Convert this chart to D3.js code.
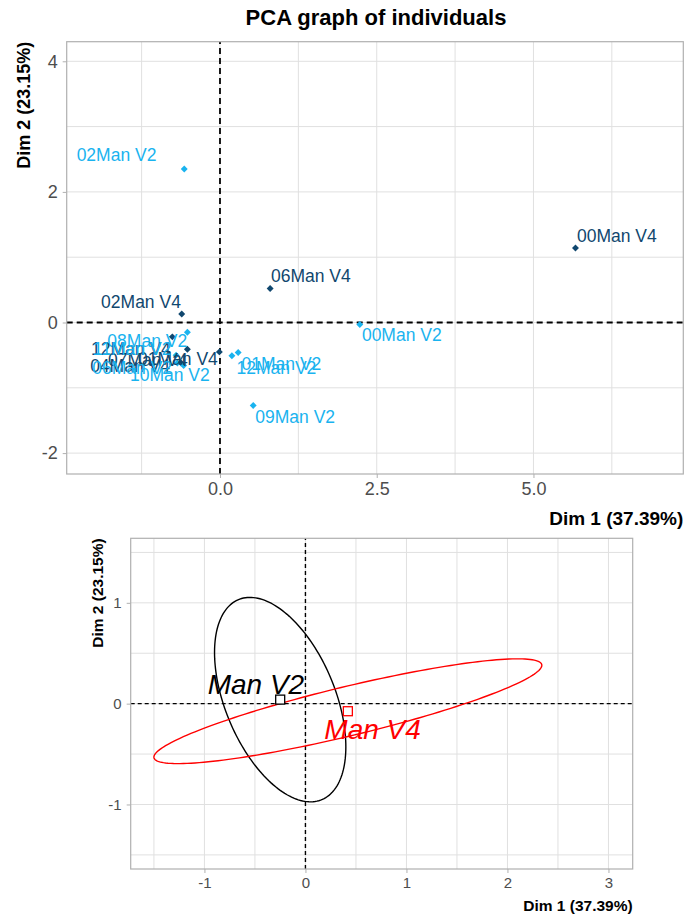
<!DOCTYPE html>
<html><head><meta charset="utf-8">
<script src="https://cdn.jsdelivr.net/npm/d3@7/dist/d3.min.js"></script>
<style>
body{margin:0;background:#fff}
svg{display:block;font-family:"Liberation Sans",Arial,sans-serif}
</style>
</head><body>
<svg id="c" width="692" height="915"></svg>
<script>
// ---------- DATA: individuals (top panel) ----------
const indNames  = ["02Man V2","00Man V4","06Man V4","02Man V4","00Man V2","09Man V2","12Man V2","01Man V2",
                   "08Man V2","12Man V4","04Man V4","10Man V2","01Man V4","07Man V4","11Man V2","06Man V2"];
const indGroup  = ["V2","V4","V4","V4","V2","V2","V2","V2","V2","V4","V4","V2","V4","V4","V2","V2"];
const indDim1   = [-0.57, 5.67, 0.80, -0.61, 2.23, 0.53, 0.19, 0.29, -0.52, -0.76, -0.62, -0.58, -0.01, -0.52, -0.70, -0.68];
const indDim2   = [ 2.35, 1.14, 0.52,  0.13,-0.03,-1.27,-0.51,-0.46, -0.15, -0.22, -0.62, -0.66, -0.45, -0.41, -0.50, -0.62];
// repelled label anchors (data units, text centre)
const labDim1   = [-1.65, 6.33, 1.45, -1.26, 2.90, 1.20, 0.90, 0.98, -1.16, -1.42, -1.435, -0.80, -0.67, -1.15, -1.40, -1.40];
const labDim2   = [ 2.565, 1.32, 0.71, 0.32,-0.19,-1.44,-0.69,-0.635, -0.29, -0.41, -0.67, -0.80, -0.56, -0.57, -0.41, -0.69];

const topXTicks = [0, 2.5, 5];
const topXTickLabels = ["0.0","2.5","5.0"];
const topXMinor = [-1.25, 1.25, 3.75, 6.25];
const topYTicks = [-2, 0, 2, 4];
const topYTickLabels = ["-2","0","2","4"];
const topYMinor = [-1, 1, 3];
const topXDomain = [-2.445, 7.39];
const topYDomain = [-2.32, 4.30];

// ---------- DATA: group ellipses (bottom panel) ----------
const grpNames = ["Man V2","Man V4"];
const grpDim1  = [-0.25, 0.42];
const grpDim2  = [ 0.04,-0.075];
const grpVarX  = [0.4225, 3.688];
const grpCovXY = [-0.304, 0.874];
const grpVarY  = [1.028, 0.27];
const grpLabDim1 = [-0.49, 0.665];
const grpLabDim2 = [ 0.19,-0.26];

const botXTicks = [-1, 0, 1, 2, 3];
const botXTickLabels = ["-1","0","1","2","3"];
const botXMinor = [-1.5, -0.5, 0.5, 1.5, 2.5];
const botYTicks = [-1, 0, 1];
const botYTickLabels = ["-1","0","1"];
const botYMinor = [-1.5, -0.5, 0.5, 1.5];
const botXDomain = [-1.73, 3.24];
const botYDomain = [-1.64, 1.64];

const title = "PCA graph of individuals";
const xTitle = "Dim 1 (37.39%)";
const yTitle = "Dim 2 (23.15%)";

// ---------- STYLE ----------
const colV2 = "#19b3ef", colV4 = "#10476e";
const grpCol = ["#000000", "#ff0000"];
const gridCol = "#e0e0e0", borderCol = "#b0b0b0", tickTextCol = "#4d4d4d";

const svg = d3.select("#c");

function panel(opts){
  const {x, y, xt, xtl, xm, yt, ytl, ym, fs, dashW, dash} = opts;
  const g = svg.append("g");
  const [x0,x1] = x.range(), [y0,y1] = y.range();
  g.selectAll(".gx").data(xm.concat(xt)).join("line")
    .attr("x1", d=>x(d)).attr("x2", d=>x(d)).attr("y1", y0).attr("y2", y1)
    .attr("stroke", gridCol).attr("stroke-width", 1);
  g.selectAll(".gy").data(ym.concat(yt)).join("line")
    .attr("y1", d=>y(d)).attr("y2", d=>y(d)).attr("x1", x0).attr("x2", x1)
    .attr("stroke", gridCol).attr("stroke-width", 1);
  const ax = g.append("g").attr("transform", `translate(0,${y0})`)
    .call(d3.axisBottom(x).tickValues(xt).tickFormat((d,i)=>xtl[i]).tickSize(4).tickPadding(4));
  const ay = g.append("g").attr("transform", `translate(${x0},0)`)
    .call(d3.axisLeft(y).tickValues(yt).tickFormat((d,i)=>ytl[i]).tickSize(4).tickPadding(5));
  [ax, ay].forEach(a=>{
    a.select(".domain").remove();
    a.selectAll("line").attr("stroke", borderCol);
    a.selectAll("text").attr("fill", tickTextCol).style("font-size", fs+"px").style("font-family","Liberation Sans, Arial, sans-serif");
  });
  g.append("line").attr("x1", x(0)).attr("x2", x(0)).attr("y1", y0).attr("y2", y1)
    .attr("stroke","#000").attr("stroke-width", dashW).attr("stroke-dasharray", dash);
  g.append("line").attr("y1", y(0)).attr("y2", y(0)).attr("x1", x0).attr("x2", x1)
    .attr("stroke","#000").attr("stroke-width", dashW).attr("stroke-dasharray", dash);
  g.append("rect").attr("x", x0).attr("y", y1).attr("width", x1-x0).attr("height", y0-y1)
    .attr("fill","none").attr("stroke", borderCol).attr("stroke-width", 1.2);
  return g;
}

// ---------- TOP PANEL ----------
const tx = d3.scaleLinear().domain(topXDomain).range([66.7, 683.3]);
const ty = d3.scaleLinear().domain(topYDomain).range([474, 41.7]);
const gt = panel({x:tx, y:ty, xt:topXTicks, xtl:topXTickLabels, xm:topXMinor,
                  yt:topYTicks, ytl:topYTickLabels, ym:topYMinor, fs:18, dashW:1.8, dash:"6,4"});

const inds = indNames.map((n,i)=>({name:n, g:indGroup[i], x:indDim1[i], y:indDim2[i], lx:labDim1[i], ly:labDim2[i]}));
gt.selectAll(".pt").data(inds).join("path")
  .attr("d", d3.symbol(d3.symbolSquare, 24))
  .attr("transform", d=>`translate(${tx(d.x)},${ty(d.y)}) rotate(45)`)
  .attr("fill", d=>d.g==="V2"?colV2:colV4);
gt.selectAll(".lb").data(inds).join("text")
  .attr("x", d=>tx(d.lx)).attr("y", d=>ty(d.ly))
  .attr("text-anchor","middle").attr("dominant-baseline","central")
  .attr("fill", d=>d.g==="V2"?colV2:colV4)
  .style("font-size","17.5px")
  .text(d=>d.name);

svg.append("text").attr("x", 376).attr("y", 25).attr("text-anchor","middle")
  .style("font-size","22px").style("font-weight","bold").text(title);
svg.append("text").attr("x", 683.3).attr("y", 525).attr("text-anchor","end")
  .style("font-size","19px").style("font-weight","bold").text(xTitle);
svg.append("text").attr("transform","translate(30,41.7) rotate(-90)").attr("text-anchor","end")
  .style("font-size","18px").style("font-weight","bold").text(yTitle);

// ---------- BOTTOM PANEL ----------
const bx = d3.scaleLinear().domain(botXDomain).range([130.7, 632.7]);
const by = d3.scaleLinear().domain(botYDomain).range([869, 538.3]);
const gb = panel({x:bx, y:by, xt:botXTicks, xtl:botXTickLabels, xm:botXMinor,
                  yt:botYTicks, ytl:botYTickLabels, ym:botYMinor, fs:15, dashW:1.4, dash:"4,3"});

const grps = grpNames.map((n,i)=>({name:n, cx:grpDim1[i], cy:grpDim2[i], sxx:grpVarX[i], sxy:grpCovXY[i], syy:grpVarY[i],
                                   lx:grpLabDim1[i], ly:grpLabDim2[i], col:grpCol[i]}));
const angles = d3.range(0, 2*Math.PI, Math.PI/90);
const eline = d3.line().x(p=>bx(p[0])).y(p=>by(p[1])).curve(d3.curveLinearClosed);
gb.selectAll(".el").data(grps).join("path")
  .attr("d", d=>{
    const a = Math.sqrt(d.sxx), b = d.sxy/a, c = Math.sqrt(d.syy - b*b);
    return eline(angles.map(t=>[d.cx + a*Math.cos(t), d.cy + b*Math.cos(t) + c*Math.sin(t)]));
  })
  .attr("fill","none").attr("stroke", d=>d.col).attr("stroke-width", 1.4);
gb.selectAll(".sq").data(grps).join("rect")
  .attr("x", d=>bx(d.cx)-4.5).attr("y", d=>by(d.cy)-4.5).attr("width", 9).attr("height", 9)
  .attr("fill","#fff").attr("stroke", d=>d.col).attr("stroke-width", 1.3);
gb.selectAll(".gl").data(grps).join("text")
  .attr("x", d=>bx(d.lx)).attr("y", d=>by(d.ly))
  .attr("text-anchor","middle").attr("dominant-baseline","central")
  .attr("fill", d=>d.col).style("font-size","28px").style("font-style","italic")
  .text(d=>d.name);

svg.append("text").attr("x", 632.7).attr("y", 911).attr("text-anchor","end")
  .style("font-size","15.5px").style("font-weight","bold").text(xTitle);
svg.append("text").attr("transform","translate(103,538.3) rotate(-90)").attr("text-anchor","end")
  .style("font-size","15.5px").style("font-weight","bold").text(yTitle);
</script>
</body></html>
